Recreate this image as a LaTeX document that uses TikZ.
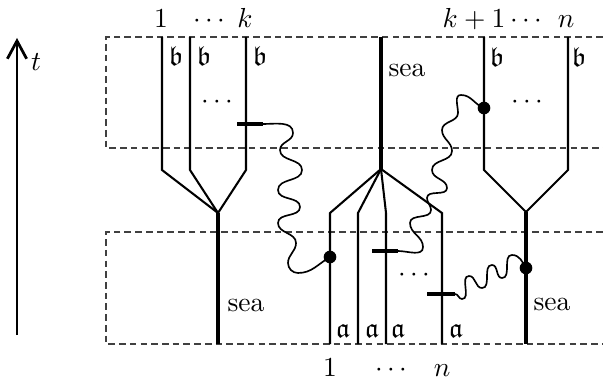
\documentclass[tikz,border=0pt]{standalone}
\usepackage{amssymb}
\usetikzlibrary{arrows.meta}
\newcommand{\mydots}{{\cdot}\kern1.6pt{\cdot}\kern1.6pt{\cdot}}
\begin{document}
\begin{tikzpicture}[x=0.3636pt,y=0.3636pt,
  thinline/.style={line width=0.75pt},
  trunk/.style={line width=1.15pt},
  wave/.style={line width=0.6pt},
  barline/.style={line width=1.6pt},
  boxline/.style={line width=0.4pt, black!75, dash pattern=on 2.4pt off 1.5pt},
  vdot/.style={circle, fill, inner sep=0pt, minimum size=4.6pt},
  lab/.style={inner sep=0pt},
]
\useasboundingbox (0,0) rectangle (603,379);

% time arrow
\coordinate (tA) at (17,44);
\coordinate (tB) at (17,341);
\draw[line width=1pt, -{Straight Barb[length=6.5pt,width=7pt]}] (tA) -- (tB);
\node[lab] (tlab) at (36,317) {$t$};

% dashed boxes
\draw[boxline] (603,342) -- (106,342) -- (106,231) -- (603,231);
\draw[boxline] (603,147) -- (106,147) -- (106,35) -- (603,35);

% left fan
\coordinate (a1) at (162,342); \coordinate (a1b) at (162,209);
\coordinate (a2) at (190,342); \coordinate (a2b) at (190,209);
\coordinate (a3) at (246,342); \coordinate (a3b) at (246,209);
\coordinate (fanL) at (218,166); \coordinate (baseL) at (218,35);
\draw[thinline] (a1) -- (a1b) -- (fanL);
\draw[thinline] (a2) -- (a2b) -- (fanL);
\draw[thinline] (a3) -- (a3b) -- (fanL);
\draw[trunk] (fanL) -- (baseL);

% centre fan
\coordinate (cTop) at (381,342); \coordinate (fanC) at (381,210);
\coordinate (c1) at (330,166); \coordinate (c1b) at (330,35);
\coordinate (c2) at (358,166); \coordinate (c2b) at (358,35);
\coordinate (c3) at (386,166); \coordinate (c3b) at (386,35);
\coordinate (c4) at (442,166); \coordinate (c4b) at (442,35);
\draw[trunk] (cTop) -- (fanC);
\draw[thinline] (fanC) -- (c1) -- (c1b);
\draw[thinline] (fanC) -- (c2) -- (c2b);
\draw[thinline] (fanC) -- (c3) -- (c3b);
\draw[thinline] (fanC) -- (c4) -- (c4b);

% right fan
\coordinate (r1) at (484,342); \coordinate (r1b) at (484,209);
\coordinate (r2) at (568,342); \coordinate (r2b) at (568,209);
\coordinate (fanR) at (526,167); \coordinate (baseR) at (526,35);
\draw[thinline] (r1) -- (r1b) -- (fanR);
\draw[thinline] (r2) -- (r2b) -- (fanR);
\draw[trunk] (fanR) -- (baseR);

% vertices
\node[vdot] (d1) at (330,122) {};
\node[vdot] (d2) at (484,271) {};
\node[vdot] (d3) at (526,111) {};

% bars
\coordinate (b1l) at (237,255); \coordinate (b1r) at (263,255);
\coordinate (b2l) at (372,128); \coordinate (b2r) at (398,128);
\coordinate (b3l) at (427,85);  \coordinate (b3r) at (455,85);
\draw[barline] (b1l) -- (b1r);
\draw[barline] (b2l) -- (b2r);
\draw[barline] (b3l) -- (b3r);

% wavy lines
\draw[wave] (b1r) to[out=0,in=90] (293,246) to[out=-90,in=90] (280,229)
  to[out=-90,in=90] (302,209) to[out=-90,in=90] (278,189)
  to[out=-90,in=90] (300,172) to[out=-90,in=90] (278,156)
  to[out=-90,in=90] (296,136) to[out=-90,in=90] (288,116)
  to[out=-90,in=180] (298,106) to[out=0,in=-150] (d1.center);
\draw[wave] (d2.center) to[out=160,in=0] (461,284) to[out=180,in=90] (458,266)
  to[out=-90,in=90] (442,249) to[out=-90,in=90] (452,228)
  to[out=-90,in=90] (432,209) to[out=-90,in=90] (447,191)
  to[out=-90,in=90] (427,181) to[out=-90,in=90] (431,169)
  to[out=-90,in=90] (410,156) to[out=-90,in=90] (423,132)
  to[out=-90,in=0] (b2r);
\draw[wave] (b3r) to[out=0,in=180] (462,80) to[out=0,in=180] (469,103)
  to[out=0,in=180] (482,91) to[out=0,in=180] (492,114)
  to[out=0,in=180] (502,101) to[out=0,in=180] (512,124)
  to[out=0,in=120] (d3.center);

% labels in boxes
\node[lab] (lb1) at (176,323) {$\mathfrak{b}$};
\node[lab] (lb2) at (204,323) {$\mathfrak{b}$};
\node[lab] (lb3) at (260,323) {$\mathfrak{b}$};
\node[lab] (lb4) at (497,322) {$\mathfrak{b}$};
\node[lab] (lb5) at (579,322) {$\mathfrak{b}$};
\node[lab] (dotsL) at (217,277) {$\mydots$};
\node[lab] (dotsR) at (527,277) {$\mydots$};
\node[lab] (dotsB) at (414,104) {$\mydots$};
\node[lab] (seaT) at (407,309) {sea};
\node[lab] (seaL) at (246,74) {sea};
\node[lab] (seaR) at (552,75) {sea};
\node[lab] (la1) at (343,48) {$\mathfrak{a}$};
\node[lab] (la2) at (372,48) {$\mathfrak{a}$};
\node[lab] (la3) at (398,48) {$\mathfrak{a}$};
\node[lab] (la4) at (456,48) {$\mathfrak{a}$};

% outer labels
\node[lab, anchor=base] (top1) at (161,351) {$1$};
\node[lab, anchor=base] (topdots) at (209,351) {$\mydots$};
\node[lab, anchor=base] (topk) at (245,351) {$k$};
\node[lab, anchor=base] (topk1) at (474,351) {$k+1$};
\node[lab, anchor=base] (topdots2) at (526,351) {$\mydots$};
\node[lab, anchor=base] (topn) at (566,351) {$n$};
\node[lab, anchor=base] (bot1) at (330,3) {$1$};
\node[lab, anchor=base] (botdots) at (391,3) {$\mydots$};
\node[lab, anchor=base] (botn) at (442,3) {$n$};
\end{tikzpicture}
\end{document}
